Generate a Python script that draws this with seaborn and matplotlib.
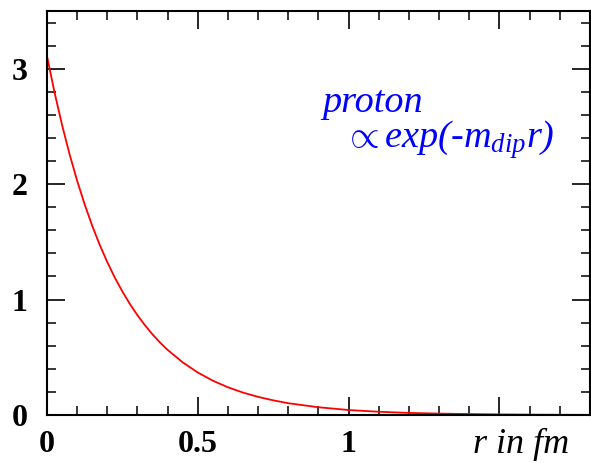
import numpy as np
import pandas as pd
import matplotlib
matplotlib.use("Agg")
import matplotlib.pyplot as plt
from matplotlib.ticker import MultipleLocator, FixedLocator
import seaborn as sns

# data
r_fm = [0.0, 0.025, 0.05, 0.075, 0.1, 0.125, 0.15, 0.175, 0.2, 0.225, 0.25, 0.275,
        0.3, 0.325, 0.35, 0.375, 0.4, 0.45, 0.5, 0.55, 0.6,
        0.65, 0.7, 0.75, 0.8, 0.9, 1.0, 1.1, 1.2, 1.3, 1.4, 1.5, 1.6, 1.7, 1.8]
density = [3.11, 2.795, 2.512, 2.258, 2.029, 1.824, 1.639, 1.473, 1.324, 1.190,
           1.070, 0.961, 0.864, 0.777, 0.698, 0.627, 0.564, 0.456,
           0.368, 0.297, 0.240, 0.194, 0.157, 0.127, 0.102, 0.067, 0.043, 0.028,
           0.018, 0.012, 0.008, 0.005, 0.003, 0.002, 0.001]
x_ticks = [0, 0.5, 1, 1.5]
x_tick_labels = ["0", "0.5", "1", ""]
y_ticks = [0, 1, 2, 3]
y_tick_labels = ["0", "1", "2", "3"]
label_line1 = "proton"
label_line2 = r"$\propto exp(\text{-}m_{dip}r)$"
x_title = "r in fm"

df = pd.DataFrame({"r": r_fm, "rho": density})

sns.set_theme(style="ticks")
plt.rcParams["font.family"] = ["Liberation Serif", "DejaVu Serif"]
plt.rcParams["mathtext.fontset"] = "custom"
plt.rcParams["mathtext.rm"] = "Liberation Serif:italic"
plt.rcParams["mathtext.it"] = "Liberation Serif:italic"
plt.rcParams["mathtext.bf"] = "Liberation Serif:bold"
plt.rcParams["text.color"] = "black"
plt.rcParams["xtick.color"] = "black"
plt.rcParams["ytick.color"] = "black"
plt.rcParams["xtick.labelcolor"] = "black"
plt.rcParams["ytick.labelcolor"] = "black"

fig = plt.figure(figsize=(5.91, 4.63), dpi=100)
ax = fig.add_axes([0.0795, 0.1037, 0.9185, 0.8726])

sns.lineplot(data=df, x="r", y="rho", ax=ax, color="#ff0000", linewidth=1.3)

ax.set_xlim(0, 1.8)
ax.set_ylim(0, 3.5)
ax.set_xlabel("")
ax.set_ylabel("")

ax.xaxis.set_major_locator(FixedLocator(x_ticks))
ax.set_xticklabels(x_tick_labels)
ax.xaxis.set_minor_locator(MultipleLocator(0.1))
ax.yaxis.set_major_locator(FixedLocator(y_ticks))
ax.set_yticklabels(y_tick_labels)
ax.yaxis.set_minor_locator(MultipleLocator(0.2))

for s in ax.spines.values():
    s.set_linewidth(1.5)
    s.set_color("black")

ax.tick_params(which="both", direction="in", top=True, right=True, color="black",
               labelcolor="black")
ax.tick_params(which="major", length=13, width=1.2)
ax.tick_params(which="minor", length=6.5, width=1.1)
ax.tick_params(axis="x", which="major", pad=11, labelsize=23)
ax.tick_params(axis="y", which="major", pad=14, labelsize=23)
for lab in ax.get_xticklabels() + ax.get_yticklabels():
    lab.set_fontweight("bold")
    lab.set_color("black")

fig.text(473 / 591, 1 - 453 / 463, x_title, fontsize=26, fontstyle="italic",
         color="black", ha="left", va="baseline")

ax.text((323 - 47) / 544, (415 - 112) / 404, label_line1, transform=ax.transAxes,
        fontsize=27.5, fontstyle="italic", color="#0000ff", ha="left", va="baseline")
ax.text((345 - 47) / 544, (415 - 148) / 404, label_line2, transform=ax.transAxes,
        fontsize=27.5, color="#0000ff", ha="left", va="baseline")

fig.savefig("out.png", dpi=100)
